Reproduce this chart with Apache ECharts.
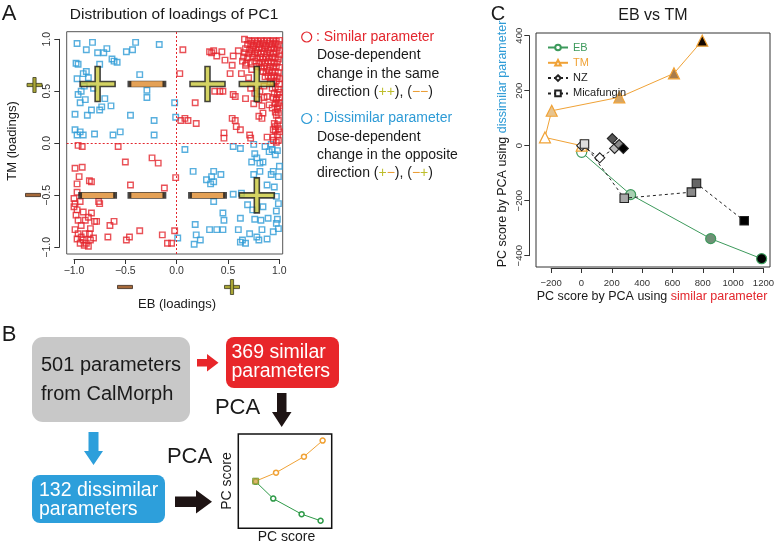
<!DOCTYPE html>
<html><head><meta charset="utf-8">
<script src="https://cdn.jsdelivr.net/npm/echarts@6/dist/echarts.min.js"></script>
<style>html,body{margin:0;padding:0;background:#fff}#c{width:777px;height:545px}</style>
</head><body><div id="c"></div>
<script>
// ---------- DATA ----------
// Panel A: loadings of PC1 (EB, TM)
const dissimilarLoadings = [
[-0.97,0.96],[-0.88,0.90],[-0.82,0.97],[-0.77,0.87],[-0.68,0.91],[-0.71,0.87],[-0.63,0.81],[-0.61,0.79],[-0.58,0.78],[-0.49,0.88],[-0.43,0.90],[-0.40,0.97],[-0.17,0.95],
[-0.98,0.77],[-0.96,0.76],[-0.91,0.67],[-0.88,0.69],[-0.97,0.62],[-0.86,0.63],[-0.81,0.53],[-0.96,0.47],[-0.93,0.50],[-0.89,0.42],[-0.94,0.39],[-0.70,0.43],[-0.73,0.35],
[-0.75,0.32],[-0.83,0.32],[-0.87,0.27],[-0.99,0.28],[-0.29,0.51],[-0.29,0.44],[-0.36,0.66],[-0.45,0.27],[-0.22,0.22],[-0.02,0.39],[-0.01,0.25],[-0.99,0.13],[-0.97,0.08],
[-0.94,0.11],[-0.91,0.08],[-0.80,0.09],[-0.62,0.08],[-0.55,0.11],[-0.22,0.08],[-0.75,0.76],[-0.90,0.55],[-0.64,0.36],
[0.08,-0.06],[0.16,-0.27],[0.36,-0.27],[0.29,-0.35],[0.34,-0.32],[0.33,-0.39],[0.36,-0.37],[0.43,-0.30],[0.36,-0.56],[0.45,-0.67],[0.18,-0.78],[0.32,-0.83],[0.39,-0.83],
[0.19,-0.88],[0.17,-0.97],[0.23,-0.93],[0.01,-0.91],[0.55,-0.03],[0.62,-0.05],[0.75,-0.01],[0.76,-0.10],[0.78,-0.14],[0.81,-0.19],[0.84,-0.18],[0.92,-0.01],[0.93,-0.06],
[0.96,-0.11],[0.98,-0.07],[0.92,-0.30],[0.99,-0.32],[1.00,-0.22],[0.94,-0.27],[0.75,-0.30],[0.73,-0.18],[0.81,-0.27],[0.55,-0.49],[0.63,-0.48],[0.69,-0.59],[0.74,-0.64],
[0.84,-0.61],[0.97,-0.51],[0.99,-0.58],[0.97,-0.65],[0.98,-0.73],[0.97,-0.77],[0.99,-0.82],[0.89,-0.72],[0.82,-0.74],[0.76,-0.73],[0.62,-0.72],[0.60,-0.83],[0.71,-0.87],
[0.78,-0.90],[0.83,-0.83],[0.88,-0.92],[0.94,-0.85],[0.64,-0.93],[0.67,-0.96],[0.62,-0.95],[0.80,-0.93],[0.45,-0.83],[0.46,-0.74],[0.88,-0.40],[0.95,-0.42],[0.90,-0.08],[0.86,-0.03]
];
const similarLoadings = [
[-0.96,-0.02],[-0.92,-0.03],[-0.57,-0.03],[-0.99,-0.24],[-0.92,-0.23],[-0.95,-0.32],[-0.97,-0.39],[-0.85,-0.36],[-0.83,-0.37],[-0.50,-0.18],[-0.24,-0.14],[-0.18,-0.19],
[-0.45,-0.40],[-0.12,-0.43],[-0.01,-0.33],[-1.00,-0.53],[-0.99,-0.58],[-1.00,-0.61],[-0.97,-0.64],[-0.98,-0.69],[-0.96,-0.74],[-0.94,-0.56],[-0.91,-0.66],[-0.89,-0.74],
[-0.86,-0.71],[-0.83,-0.67],[-0.80,-0.75],[-0.76,-0.56],[-0.75,-0.58],[-0.78,-0.75],[-0.99,-0.83],[-0.96,-0.87],[-0.93,-0.90],[-0.91,-0.93],[-0.88,-0.96],[-0.84,-0.93],
[-0.81,-0.91],[-0.94,-0.96],[-0.89,-0.87],[-0.84,-0.82],[-0.85,-0.87],[-0.65,-0.79],[-0.61,-0.75],[-0.67,-0.90],[-0.49,-0.93],[-0.46,-0.90],[-0.36,-0.84],[-0.14,-0.88],
[-0.09,-0.96],[-0.05,-0.96],[-0.02,-0.84],[-0.97,-0.47],[-0.93,-0.79],[-0.90,-0.98],[-0.86,-0.99],[-0.97,-0.92],
[0.06,0.90],[0.03,0.67],[0.04,0.22],[0.08,0.24],[0.11,0.22],[0.18,0.39],[0.19,0.19],[0.32,0.88],[0.34,0.87],[0.36,0.89],[0.39,0.84],[0.44,0.88],[0.47,0.80],[0.54,0.75],
[0.55,0.84],[0.60,0.89],[0.52,0.67],[0.45,0.50],[0.37,0.50],[0.42,0.50],[0.55,0.47],[0.57,0.45],[0.66,1.00],[0.64,0.79],[0.67,0.75],[0.68,0.77],[0.73,0.71],[0.63,0.67],
[0.70,0.63],[0.67,0.43],[0.54,0.24],[0.57,0.22],[0.58,0.16],[0.62,0.13],[0.71,0.08],[0.72,0.05],[0.88,0.06],[0.94,0.06],[0.46,0.05],[0.46,0.10],[0.80,0.26],[0.83,0.24],
[0.84,0.29],[0.97,0.42],[0.98,0.35],[0.96,0.30],[0.99,0.22],[0.96,0.16],[0.94,0.13],[1.00,0.11],[0.98,0.08],[0.99,0.03],
[0.70,0.99],[0.73,0.98],[0.76,0.99],[0.79,0.98],[0.82,0.99],[0.85,0.98],[0.88,0.99],[0.91,0.98],[0.94,0.99],[0.97,0.98],[1.00,0.99],
[0.69,0.95],[0.72,0.96],[0.75,0.94],[0.78,0.96],[0.81,0.95],[0.84,0.96],[0.87,0.94],[0.90,0.96],[0.93,0.95],[0.96,0.96],[0.99,0.95],
[0.67,0.91],[0.71,0.90],[0.74,0.92],[0.77,0.90],[0.80,0.92],[0.83,0.91],[0.86,0.92],[0.89,0.90],[0.92,0.92],[0.95,0.91],[0.98,0.92],[1.00,0.89],
[0.66,0.87],[0.70,0.86],[0.73,0.88],[0.76,0.86],[0.79,0.87],[0.82,0.86],[0.85,0.88],[0.88,0.86],[0.91,0.87],[0.94,0.86],[0.97,0.88],[1.00,0.85],
[0.65,0.83],[0.69,0.82],[0.74,0.83],[0.78,0.82],[0.81,0.83],[0.84,0.81],[0.87,0.83],[0.90,0.82],[0.93,0.83],[0.96,0.82],[0.99,0.81],
[0.72,0.78],[0.76,0.79],[0.80,0.77],[0.83,0.78],[0.86,0.77],[0.89,0.79],[0.92,0.78],[0.95,0.77],[0.98,0.78],
[0.78,0.74],[0.82,0.73],[0.85,0.74],[0.88,0.72],[0.91,0.74],[0.94,0.73],[0.97,0.74],[1.00,0.73],
[0.84,0.69],[0.87,0.68],[0.90,0.70],[0.93,0.68],[0.96,0.69],[0.99,0.68],
[0.86,0.64],[0.89,0.65],[0.92,0.63],[0.95,0.65],[0.98,0.64],[1.00,0.62],
[0.91,0.59],[0.94,0.58],[0.97,0.60],[1.00,0.57],[0.93,0.53],[0.96,0.54],[0.99,0.52],[0.95,0.48],[0.98,0.47],[1.00,0.49],
[0.94,0.44],[0.97,0.43],[1.00,0.44],[0.96,0.38],[0.99,0.39],[0.93,0.34],[0.98,0.33],[1.00,0.36],[0.97,0.27],[0.99,0.29],
[0.95,0.19],[0.98,0.18],[0.96,0.12],[0.99,0.14],[0.94,0.03],[0.97,0.01],
[0.81,0.50],[0.85,0.55],[0.76,0.48],[0.72,0.53],[0.80,0.42],[0.85,0.44],[0.75,0.38],[0.83,0.36],[0.88,0.45],[0.90,0.37]
];
// sign glyphs (+ / -) placed at quadrant positions
const plusGlyphs = [[-0.77,0.57],[0.30,0.57],[0.78,0.57],[0.78,-0.50]];
const minusGlyphs = [[-0.29,0.57],[-0.77,-0.50],[-0.29,-0.50],[0.30,-0.50]];

// Panel C: PC scores (x: similar params, y: dissimilar params)
const ebScores = [[0,-24],[320,-178],[843,-338],[1176,-411]];
const tmScores = [[0,0],[-240,30],[-196,127],[246,176],[603,263],[788,382]];
const nzScores = [[0,0],[118,-44],[215,-10],[200,26],[245,4],[272,-10]];
const micaScores = [[18,6],[278,-191],[717,-169],[750,-137],[1062,-273]];
// dose level fills (light -> dark)
const ebFills = ['#ffffff','#a9cfb2','#6f8f76','#000000'];
const tmFills = ['#fff3dd','#ffffff','#e8c48e','#d4a566','#a77c4c','#150800'];
const nzFills = ['#ffffff','#ffffff','#bdbdbd','#555555','#8a8a8a','#000000'];
const micaFills = ['#dddddd','#a8a8a8','#8a8a8a','#666666','#000000'];

// Panel B inset schematic
const insetOrange = [[1.86,5.0],[4.04,5.9],[7.03,7.6],[9.03,9.3]];
const insetGreen = [[1.86,4.95],[3.74,3.15],[6.78,1.5],[8.81,0.8]];

// ---------- CHART ----------
const FONT = '"Liberation Sans", Arial, Helvetica, sans-serif';
const RED = '#e3262d', BLUE = '#2e9bd6', GREEN = '#3d9a5c', ORANGE = '#f0a236';
const OLIVE = '#c9c83c', MINUS = '#dd8a2c';
const chart = echarts.init(document.getElementById('c'));

const withFill = (pts, fills) => pts.map((p, i) => ({value: p, itemStyle: {color: fills[i]}}));
const negFmt = d => v => (v < 0 ? '\u2212' : '') + Math.abs(v).toFixed(d);

function txt(x, y, text, size, o = {}) {
  const st = {text, fontSize: size, fontFamily: FONT, fill: o.fill || '#1a1a1a',
    textAlign: o.align || 'center', align: o.align || 'center',
    textVerticalAlign: 'middle', verticalAlign: 'middle'};
  if (o.rich) st.rich = o.rich;
  return {type: 'text', x, y, rotation: o.rot || 0, style: st, silent: true, z: 10};
}
const rs = (c, size) => ({fill: c, color: c, fontSize: size, fontFamily: FONT});
function rect(x, y, w, h, fill, stroke, lw, r) {
  return {type: 'rect', shape: {x, y, width: w, height: h, r: r || 0},
    style: {fill, stroke: stroke || null, lineWidth: lw || 0}, silent: true, z: 10};
}
function poly(points, fill) {
  return {type: 'polygon', shape: {points}, style: {fill}, silent: true, z: 10};
}
function plusMark(cx, cy, s, t) {
  return [rect(cx - s/2, cy - t/2, s, t, '#aaa636', '#3a3a20', 0.8),
          rect(cx - t/2, cy - s/2, t, s, '#aaa636', '#3a3a20', 0.8)];
}
function minusMark(cx, cy, s, t) {
  return [rect(cx - s/2, cy - t/2, s, t, '#a5693a', '#3a2a20', 0.8)];
}

function rAxis(extra, fs, margin, rot) {
  return Object.assign({
    type: 'value',
    axisLine: {show: true, onZero: false, lineStyle: {color: '#333', width: 1}},
    axisTick: {show: true, length: 5, lineStyle: {color: '#333', width: 1}},
    splitLine: {show: false},
    axisLabel: {color: '#333', fontSize: fs, fontFamily: FONT, margin, rotate: rot || 0, formatter: negFmt(fs > 10 ? 1 : 0)}
  }, extra);
}

const option = {
  animation: false,
  backgroundColor: '#fff',
  grid: [
    {left: 66.7, top: 31.7, width: 216, height: 222.3, show: true, borderColor: '#555', borderWidth: 1, backgroundColor: 'transparent'},
    {left: 74, top: 39.3, width: 205.3, height: 208},
    {left: 536, top: 33, width: 234, height: 234, show: true, borderColor: '#333', borderWidth: 1, backgroundColor: 'transparent'},
    {left: 551.1, top: 35.7, width: 214.2, height: 220},
    {left: 238.3, top: 434, width: 93.4, height: 94.3, show: true, borderColor: '#111', borderWidth: 1.5, backgroundColor: 'transparent'}
  ],
  xAxis: [
    {gridIndex: 0, type: 'value', min: -1.071, max: 1.032, show: false},
    rAxis({gridIndex: 1, min: -1, max: 1, interval: 0.5, position: 'bottom', offset: 11.7}, 10.5, 7),
    {gridIndex: 2, type: 'value', min: -298.7, max: 1230.7, show: false},
    rAxis({gridIndex: 3, min: -200, max: 1200, interval: 200, position: 'bottom', offset: 12.3}, 9.5, 10),
    {gridIndex: 4, type: 'value', min: 0, max: 10, show: false}
  ],
  yAxis: [
    {gridIndex: 0, type: 'value', min: -1.064, max: 1.073, show: false},
    rAxis({gridIndex: 1, min: -1, max: 1, interval: 0.5, position: 'left', offset: 14.7}, 10.5, 7, 90),
    {gridIndex: 2, type: 'value', min: -441.1, max: 409.8, show: false},
    rAxis({gridIndex: 3, min: -400, max: 400, interval: 200, position: 'left', offset: 21.8}, 9.5, 5, 90),
    {gridIndex: 4, type: 'value', min: 0, max: 10, show: false}
  ],
  legend: {
    left: 542, top: 37, orient: 'vertical', itemWidth: 20, itemHeight: 7, itemGap: 4.3,
    textStyle: {fontSize: 11, fontFamily: FONT, color: '#222'},
    data: [
      {name: 'EB', textStyle: {color: GREEN}},
      {name: 'TM', textStyle: {color: ORANGE}},
      {name: 'NZ', textStyle: {color: '#222'}},
      {name: 'Micafungin', textStyle: {color: '#222'}}
    ]
  },
  series: [
    {name: 'Dissimilar', type: 'scatter', xAxisIndex: 0, yAxisIndex: 0, data: dissimilarLoadings,
     symbol: 'rect', symbolSize: 5.5, itemStyle: {color: 'rgba(255,255,255,0)', borderColor: BLUE, borderWidth: 1.4}, z: 2},
    {name: 'Similar', type: 'scatter', xAxisIndex: 0, yAxisIndex: 0, data: similarLoadings,
     symbol: 'rect', symbolSize: 5.5, itemStyle: {color: 'rgba(255,255,255,0)', borderColor: RED, borderWidth: 1.4}, z: 2,
     markLine: {silent: true, symbol: 'none', label: {show: false},
       lineStyle: {color: RED, type: [2, 2], width: 1}, data: [{xAxis: 0}, {yAxis: 0}]}},
    {name: 'plusGlyph', type: 'scatter', xAxisIndex: 0, yAxisIndex: 0, data: plusGlyphs,
     symbol: 'path://M15,0h5v15h15v5h-15v15h-5v-15h-15v-5h15z', symbolSize: 35,
     itemStyle: {color: OLIVE, borderColor: '#1a1a1a', borderWidth: 1.6}, z: 5, silent: true},
    {name: 'minusGlyph', type: 'scatter', xAxisIndex: 0, yAxisIndex: 0, data: minusGlyphs,
     symbol: 'rect', symbolSize: [35, 6], itemStyle: {color: MINUS, borderColor: '#1a1a1a', borderWidth: 1.6}, z: 5, silent: true},

    {name: 'EB', type: 'line', xAxisIndex: 2, yAxisIndex: 2, data: withFill(ebScores, ebFills), color: GREEN,
     symbol: 'circle', symbolSize: 10, lineStyle: {color: GREEN, width: 1},
     itemStyle: {color: '#fff', borderColor: GREEN, borderWidth: 1.2}, z: 3},
    {name: 'TM', type: 'line', xAxisIndex: 2, yAxisIndex: 2, data: withFill(tmScores, tmFills), color: ORANGE,
     symbol: 'triangle', symbolSize: 11, lineStyle: {color: ORANGE, width: 1},
     itemStyle: {color: '#fff', borderColor: ORANGE, borderWidth: 1.2}, z: 3},
    {name: 'NZ', type: 'line', xAxisIndex: 2, yAxisIndex: 2, data: withFill(nzScores, nzFills), color: '#222',
     symbol: 'diamond', symbolSize: 10, lineStyle: {color: '#222', width: 1, type: [3, 3]},
     itemStyle: {color: '#fff', borderColor: '#222', borderWidth: 1.1}, z: 4},
    {name: 'Micafungin', type: 'line', xAxisIndex: 2, yAxisIndex: 2, data: withFill(micaScores, micaFills), color: '#222',
     symbol: 'rect', symbolSize: 8.5, lineStyle: {color: '#222', width: 1, type: [3, 3]},
     itemStyle: {color: '#fff', borderColor: '#222', borderWidth: 1.1}, z: 4},

    {name: 'insetO', type: 'line', xAxisIndex: 4, yAxisIndex: 4, data: insetOrange,
     symbol: 'circle', symbolSize: 5, lineStyle: {color: ORANGE, width: 1},
     itemStyle: {color: '#fff', borderColor: ORANGE, borderWidth: 1.5}},
    {name: 'insetG', type: 'line', xAxisIndex: 4, yAxisIndex: 4, data: insetGreen,
     symbol: 'circle', symbolSize: 5, lineStyle: {color: '#2e9a48', width: 1},
     itemStyle: {color: '#fff', borderColor: '#2e9a48', borderWidth: 1.5}},
    {name: 'insetStart', type: 'scatter', xAxisIndex: 4, yAxisIndex: 4, data: [insetOrange[0]],
     symbol: 'rect', symbolSize: 6, itemStyle: {color: '#d4a545', borderColor: '#6a9a30', borderWidth: 1}, z: 5}
  ],
  graphic: {elements: [
    // Panel A
    txt(9, 14, 'A', 22),
    txt(174, 15, 'Distribution of loadings of PC1', 15.5),
    txt(12, 141, 'TM (loadings)', 13, {rot: Math.PI / 2}),
    txt(177, 304, 'EB (loadings)', 13),
    ...plusMark(34.5, 85, 15, 3.2),
    ...minusMark(33, 195, 15, 3.2),
    ...minusMark(125, 287, 15, 3.2),
    ...plusMark(232, 287, 15, 3.2),
    {type: 'circle', shape: {cx: 306.7, cy: 37, r: 5}, style: {fill: 'none', stroke: RED, lineWidth: 1.2}, silent: true, z: 10},
    txt(316, 37, ': Similar parameter', 14, {align: 'left', fill: RED}),
    txt(317, 55.5, 'Dose-dependent', 14, {align: 'left'}),
    txt(317, 73.8, 'change in the same', 14, {align: 'left'}),
    txt(317, 92, 'direction ({p|++}), ({m|\u2212\u2212})', 14, {align: 'left', rich: {p: rs('#bdbd2a', 14), m: rs('#eb9a2e', 14)}}),
    {type: 'circle', shape: {cx: 306.7, cy: 118.5, r: 5}, style: {fill: 'none', stroke: BLUE, lineWidth: 1.2}, silent: true, z: 10},
    txt(316, 118.5, ': Dissimilar parameter', 14, {align: 'left', fill: BLUE}),
    txt(317, 137, 'Dose-dependent', 14, {align: 'left'}),
    txt(317, 155.3, 'change in the opposite', 14, {align: 'left'}),
    txt(317, 173.6, 'direction ({p|+}{m|\u2212}), ({m|\u2212}{p|+})', 14, {align: 'left', rich: {p: rs('#bdbd2a', 14), m: rs('#eb9a2e', 14)}}),

    // Panel C
    txt(498, 14, 'C', 20),
    txt(653, 16, 'EB vs TM', 16),
    txt(503, 144, 'PC score by PCA using {b|dissimilar parameter}', 12.5, {rot: Math.PI / 2, rich: {b: rs(BLUE, 12.5)}}),
    txt(652, 297, 'PC score by PCA using {r|similar parameter}', 12.5, {rich: {r: rs(RED, 12.5)}}),

    // Panel B
    txt(9, 335, 'B', 22),
    rect(32, 337, 158, 85, '#c8c8c8', null, 0, 11),
    txt(41, 365, '501 parameters', 20, {align: 'left'}),
    txt(41, 394, 'from CalMorph', 20, {align: 'left'}),
    rect(226, 337, 113, 51, '#e8262a', null, 0, 8),
    txt(231.5, 353, '369 similar', 19.5, {align: 'left', fill: '#fff'}),
    txt(231.5, 372, 'parameters', 19.5, {align: 'left', fill: '#fff'}),
    rect(32, 475, 133, 48, '#2d9fdb', null, 0, 8),
    txt(39, 490.5, '132 dissimilar', 19.5, {align: 'left', fill: '#fff'}),
    txt(39, 509.5, 'parameters', 19.5, {align: 'left', fill: '#fff'}),
    poly([[197,359],[207,359],[207,354],[218.5,362.7],[207,371.4],[207,366.4],[197,366.4]], '#e8262a'),
    poly([[88.5,432],[98.5,432],[98.5,451],[103,451],[93.5,465],[84,451],[88.5,451]], '#2d9fdb'),
    poly([[175,496.5],[196,496.5],[196,490],[212,501.7],[196,513.4],[196,507],[175,507]], '#1e1414'),
    poly([[277,393],[286.5,393],[286.5,412],[291.5,412],[281.7,427],[272,412],[277,412]], '#1e1414'),
    txt(237.5, 408, 'PCA', 22),
    txt(189.5, 457, 'PCA', 22),
    txt(227, 481, 'PC score', 14, {rot: Math.PI / 2}),
    txt(286.5, 537, 'PC score', 14)
  ]}
};
chart.setOption(option);
</script></body></html>
